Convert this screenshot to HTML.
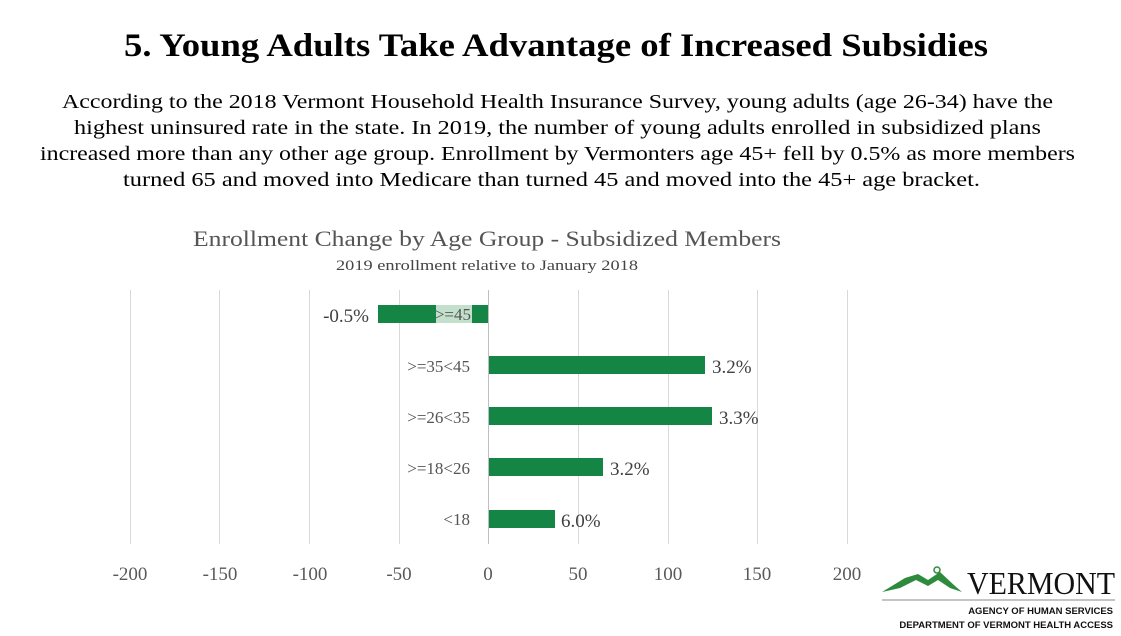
<!DOCTYPE html>
<html><head><meta charset="utf-8"><style>
html,body{margin:0;padding:0;background:#fff;width:1121px;height:636px;overflow:hidden}
svg{display:block}
</style></head><body>
<svg width="1121" height="636" xmlns="http://www.w3.org/2000/svg" font-family="'Liberation Serif',serif">
<text x="124" y="56" font-size="33" font-weight="bold" fill="#000" textLength="864" lengthAdjust="spacingAndGlyphs">5. Young Adults Take Advantage of Increased Subsidies</text>
<g font-size="20" fill="#000" lengthAdjust="spacingAndGlyphs">
<text x="62" y="108" textLength="991" lengthAdjust="spacingAndGlyphs">According to the 2018 Vermont Household Health Insurance Survey, young adults (age 26-34) have the</text>
<text x="74" y="134" textLength="967" lengthAdjust="spacingAndGlyphs">highest uninsured rate in the state. In 2019, the number of young adults enrolled in subsidized plans</text>
<text x="40" y="160" textLength="1035" lengthAdjust="spacingAndGlyphs">increased more than any other age group. Enrollment by Vermonters age 45+ fell by 0.5% as more members</text>
<text x="123" y="186" textLength="857" lengthAdjust="spacingAndGlyphs">turned 65 and moved into Medicare than turned 45 and moved into the 45+ age bracket.</text>
</g>
<text x="193" y="246" font-size="22" fill="#555" textLength="588" lengthAdjust="spacingAndGlyphs">Enrollment Change by Age Group - Subsidized Members</text>
<text x="336" y="270" font-size="15" fill="#444" textLength="302" lengthAdjust="spacingAndGlyphs">2019 enrollment relative to January 2018</text>
<g stroke="#d9d9d9" stroke-width="1">
<line x1="130.5" y1="290" x2="130.5" y2="544"/><line x1="219.5" y1="290" x2="219.5" y2="544"/>
<line x1="309.5" y1="290" x2="309.5" y2="544"/><line x1="399.5" y1="290" x2="399.5" y2="544"/>
<line x1="578.5" y1="290" x2="578.5" y2="544"/><line x1="668.5" y1="290" x2="668.5" y2="544"/>
<line x1="757.5" y1="290" x2="757.5" y2="544"/><line x1="847.5" y1="290" x2="847.5" y2="544"/>
</g>
<line x1="488.5" y1="290" x2="488.5" y2="544" stroke="#bfbfbf"/>
<g fill="#148545">
<rect x="378" y="305" width="110" height="18"/>
<rect x="489" y="356" width="216" height="18"/>
<rect x="489" y="407" width="223" height="18"/>
<rect x="489" y="458" width="114" height="18"/>
<rect x="489" y="510" width="66" height="18"/>
</g>
<rect x="436" y="305" width="36" height="18" fill="#c3e0cc"/>
<g font-size="17" fill="#555" text-anchor="end">
<text x="471" y="320">&gt;=45</text>
<text x="470" y="372">&gt;=35&lt;45</text>
<text x="470" y="423">&gt;=26&lt;35</text>
<text x="470" y="474">&gt;=18&lt;26</text>
<text x="470" y="525">&lt;18</text>
</g>
<g font-size="19" fill="#404040">
<text x="369" y="322" text-anchor="end">-0.5%</text>
<text x="712" y="373">3.2%</text>
<text x="719" y="424">3.3%</text>
<text x="610" y="475">3.2%</text>
<text x="561" y="527">6.0%</text>
</g>
<g font-size="19" fill="#595959" text-anchor="middle">
<text x="130" y="580">-200</text><text x="220" y="580">-150</text><text x="310" y="580">-100</text>
<text x="399" y="580">-50</text><text x="488" y="580">0</text><text x="578" y="580">50</text>
<text x="668" y="580">100</text><text x="757" y="580">150</text><text x="847" y="580">200</text>
</g>
<path d="M882 592 L905 578 L918 574 L928 580 L940 572 L955 586 L962 592 L950 588 L938 580 L928 586 L916 580 L900 588 Z" fill="#2e8b3e"/>
<circle cx="937" cy="570" r="3" fill="none" stroke="#2e8b3e" stroke-width="1.5"/>
<text x="1115" y="594" text-anchor="end" font-size="32" fill="#111" textLength="148" lengthAdjust="spacingAndGlyphs">VERMONT</text>
<line x1="882" y1="600" x2="1115" y2="600" stroke="#888" stroke-width="1"/>
<g font-family="'Liberation Sans',sans-serif" font-weight="bold" font-size="9.5" fill="#111" text-anchor="end">
<text x="1113" y="614">AGENCY OF HUMAN SERVICES</text>
<text x="1113" y="628">DEPARTMENT OF VERMONT HEALTH ACCESS</text>
</g>
</svg>
</body></html>
